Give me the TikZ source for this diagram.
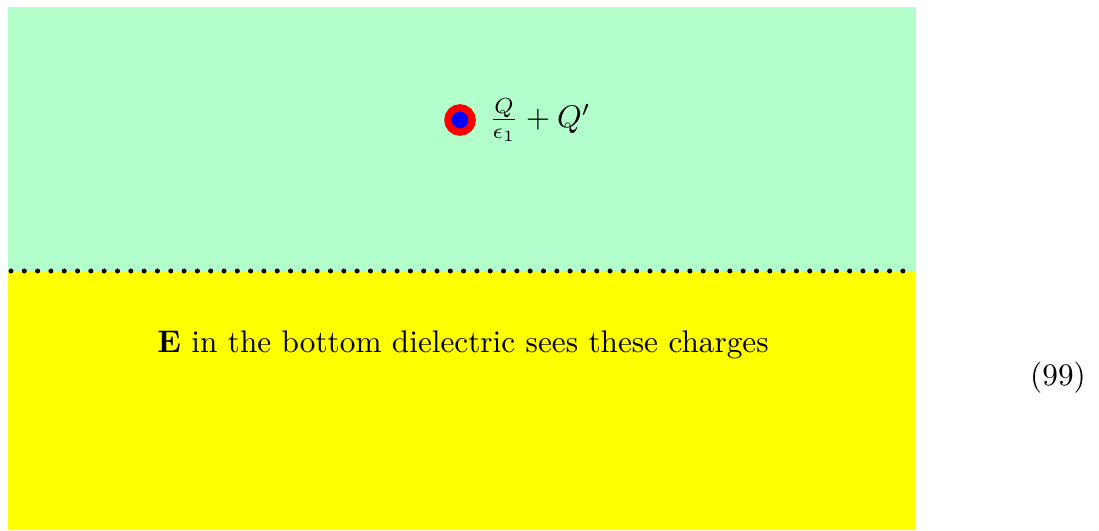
\documentclass[tikz,border=0pt]{standalone}
\usepackage{amsmath,amssymb}
\usepackage{tikz}
\usetikzlibrary{positioning}
\definecolor{topdiel}{RGB}{179,255,204}
\definecolor{botdiel}{RGB}{255,255,0}

\begin{document}
\begin{tikzpicture}[
  x=0.32pt, y=0.32pt,
  charge/.style={circle, fill=blue, draw=red, line width=2.3pt,
                 minimum size=7.8pt, inner sep=0pt},
  interface/.style={line width=1.6pt, line cap=round,
                    dash pattern=on 0pt off 4.26pt}
]
\useasboundingbox (0,0) rectangle (1099,530);

% --- dielectrics ---
\fill[topdiel] (8,259) rectangle (916,523);
\fill[botdiel] (8,0) rectangle (916,259);
\coordinate (ifl) at (11,259);
\coordinate (ifr) at (916,259);
\draw[interface] (ifl) -- (ifr);

% --- image charge ---
\node[charge] (q) at (460,410) {};
\node[right=4pt of q, inner sep=0pt] (qlab) {$\frac{Q}{\epsilon_1}+Q'$};

% --- labels ---
\node (note) at (463,185) {$\mathbf{E}$ in the bottom dielectric sees these charges};
\node (eqno) at (1058,152) {(99)};
\end{tikzpicture}
\end{document}
